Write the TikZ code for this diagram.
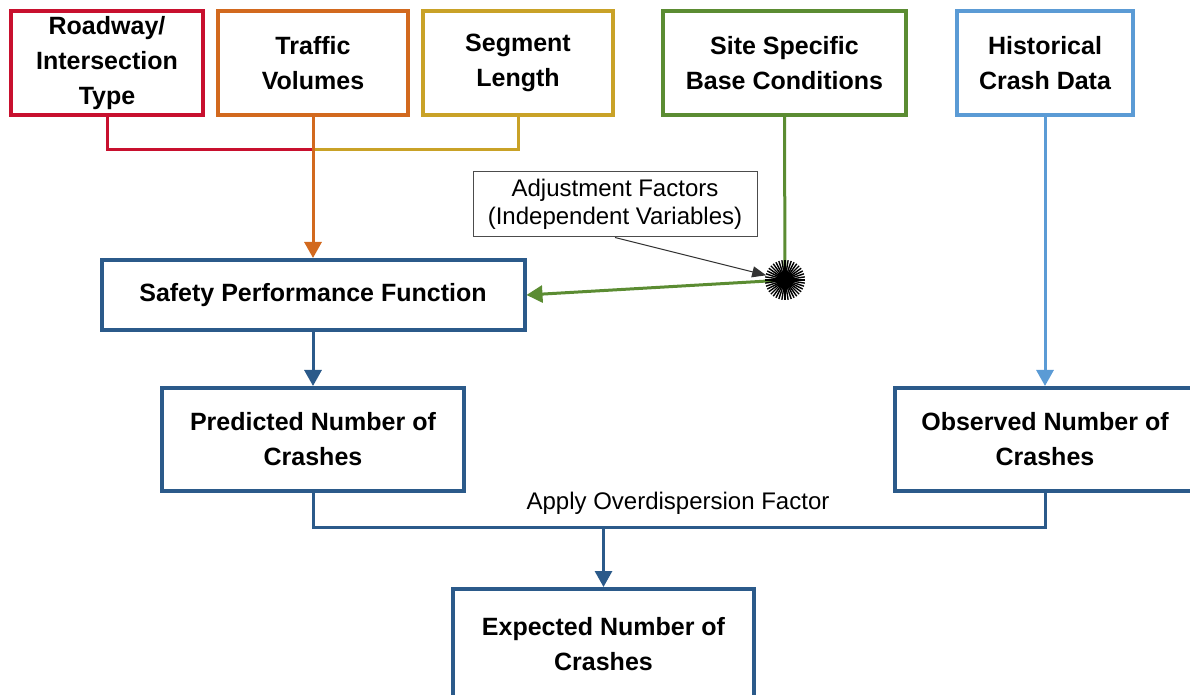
\documentclass[tikz,border=0pt]{standalone}
\usepackage{fontspec}
\setmainfont{Liberation Sans}
\usetikzlibrary{arrows.meta,calc}
\definecolor{cred}{HTML}{C8102E}
\definecolor{corange}{HTML}{D2691E}
\definecolor{cgold}{HTML}{C9A227}
\definecolor{cgreen}{HTML}{5B8C32}
\definecolor{clblue}{HTML}{5B9BD5}
\definecolor{cdblue}{HTML}{2B5A8A}
\tikzset{
  box/.style={draw=#1, line width=2pt, fill=white, align=center, inner sep=0pt,
    font=\bfseries\fontsize{12.5}{17.5}\selectfont},
  conn/.style={draw=#1, line width=1.5pt},
  tip/.style={-{Triangle[width=8.5pt,length=8pt]}},
  callout/.style={draw=black!70, line width=0.5pt, fill=white, align=center, inner sep=0pt,
    font=\fontsize{12}{14}\selectfont},
  lbl/.style={font=\fontsize{12}{14}\selectfont, inner sep=0pt}
}
\begin{document}
\begin{tikzpicture}[x=0.5pt,y=-0.5pt]
\useasboundingbox (0,0) rectangle (1190,695);
% top boxes
\node[box=cred, minimum width=96pt, minimum height=52pt] (road) at (107,63) {Roadway/\\Intersection\\Type};
\node[box=corange, minimum width=95pt, minimum height=52pt] (traf) at (313,63) {Traffic\\Volumes};
\node[box=cgold, minimum width=95pt, minimum height=52pt] (seg) at (518,63) {Segment\\Length};
\node[box=cgreen, minimum width=121.5pt, minimum height=52pt] (site) at (784.5,63) {Site Specific\\Base Conditions};
\node[box=clblue, minimum width=88pt, minimum height=52pt] (hist) at (1045,63) {Historical\\Crash Data};
% middle
\node[box=cdblue, minimum width=211.5pt, minimum height=35pt] (spf) at (313,295) {Safety Performance Function};
\node[box=cdblue, minimum width=151pt, minimum height=51.5pt] (pred) at (313,439.5) {Predicted Number of\\Crashes};
\node[box=cdblue, minimum width=150pt, minimum height=51.5pt] (obs) at (1045,439.5) {Observed Number of\\Crashes};
\node[box=cdblue, minimum width=150.5pt, minimum height=55pt] (exp) at (603.5,644) {Expected Number of\\Crashes};
% callout and burst
\node[callout, minimum width=142pt, minimum height=32.5pt] (call) at (615,204.5) {Adjustment Factors\\(Independent Variables)};
\node[circle, minimum size=19pt, inner sep=0pt] (burst) at (785,280) {};
\coordinate (join) at (313,150);
\coordinate (mid) at (603.5,527);
% connectors
\draw[conn=cred] (road.south) |- (join);
\draw[conn=cgold] (seg.south) |- (join);
\draw[conn=corange, tip] (traf.south) -- (spf.north);
\draw[conn=cgreen] (site.south) -- (burst.center);
\draw[conn=cgreen, tip] (burst.center) -- (spf.east);
\foreach \a in {0,9,...,351}{
  \draw[line width=0.7pt] (burst.center) -- ++(\a:10pt);
}
\fill (burst.center) circle (4.5pt);
\draw[line width=0.5pt, black!80, -{Triangle[width=5.5pt,length=7pt]}] (call.south) -- (burst);
\draw[conn=clblue, tip] (hist.south) -- (obs.north);
\draw[conn=cdblue, tip] (spf.south) -- (pred.north);
\draw[conn=cdblue] (pred.south) |- (mid) -| (obs.south);
\draw[conn=cdblue, tip] (mid) -- (exp.north);
\node[lbl] (odf) at (678,503) {Apply Overdispersion Factor};
\end{tikzpicture}
\end{document}
